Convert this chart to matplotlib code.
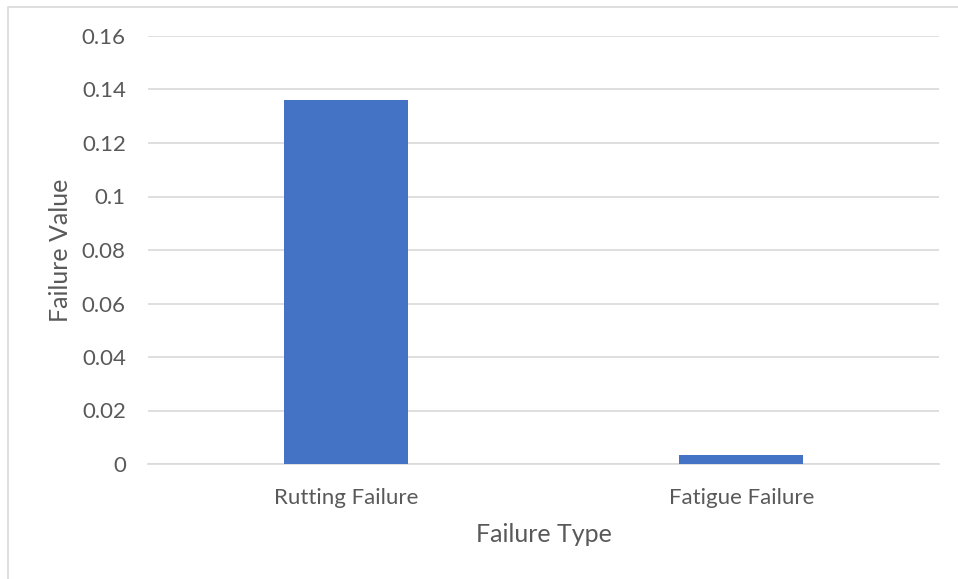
import matplotlib.pyplot as plt
from matplotlib.patches import Rectangle

failure_types = ["Rutting Failure", "Fatigue Failure"]
failure_values = [0.136, 0.0034]
y_ticks = [0, 0.02, 0.04, 0.06, 0.08, 0.1, 0.12, 0.14, 0.16]
y_tick_labels = ["0", "0.02", "0.04", "0.06", "0.08", "0.1", "0.12", "0.14", "0.16"]

plt.rcParams["font.family"] = ["Lato", "DejaVu Sans"]
text_color = "#595959"

fig = plt.figure(figsize=(9.58, 5.79), dpi=100)
ax = fig.add_axes([148 / 958, 1 - 464 / 579, 791 / 958, 428 / 579])

# light chart-area border
fig.patches.append(Rectangle((8 / 958, -0.1), 1.2, 1.1 - 7 / 579, transform=fig.transFigure,
                             fill=False, edgecolor="#D9D9D9", linewidth=1.2))

x = range(len(failure_types))
ax.bar(x, failure_values, width=0.313, color="#4472C4", zorder=3)

ax.set_xlim(-0.5, len(failure_types) - 0.5)
ax.set_ylim(0, 0.16)
ax.set_yticks(y_ticks)
ax.set_yticklabels(y_tick_labels)
ax.set_xticks(list(x))
ax.set_xticklabels(failure_types)

ax.grid(axis="y", color="#D9D9D9", linewidth=1.2, zorder=0)
for side in ["top", "right", "left"]:
    ax.spines[side].set_visible(False)
ax.spines["bottom"].set_color("#D9D9D9")
ax.spines["bottom"].set_linewidth(1.2)
ax.tick_params(axis="both", length=0, colors=text_color, labelsize=16)
ax.tick_params(axis="y", pad=16)
ax.tick_params(axis="x", pad=17)

ax.set_xlabel("Failure Type", fontsize=18, color=text_color, va="center")
ax.set_ylabel("Failure Value", fontsize=18, color=text_color, va="center")
ax.xaxis.set_label_coords(0.5, -0.165)
ax.yaxis.set_label_coords(-0.11, 0.5)

fig.savefig("out.png", dpi=100)
